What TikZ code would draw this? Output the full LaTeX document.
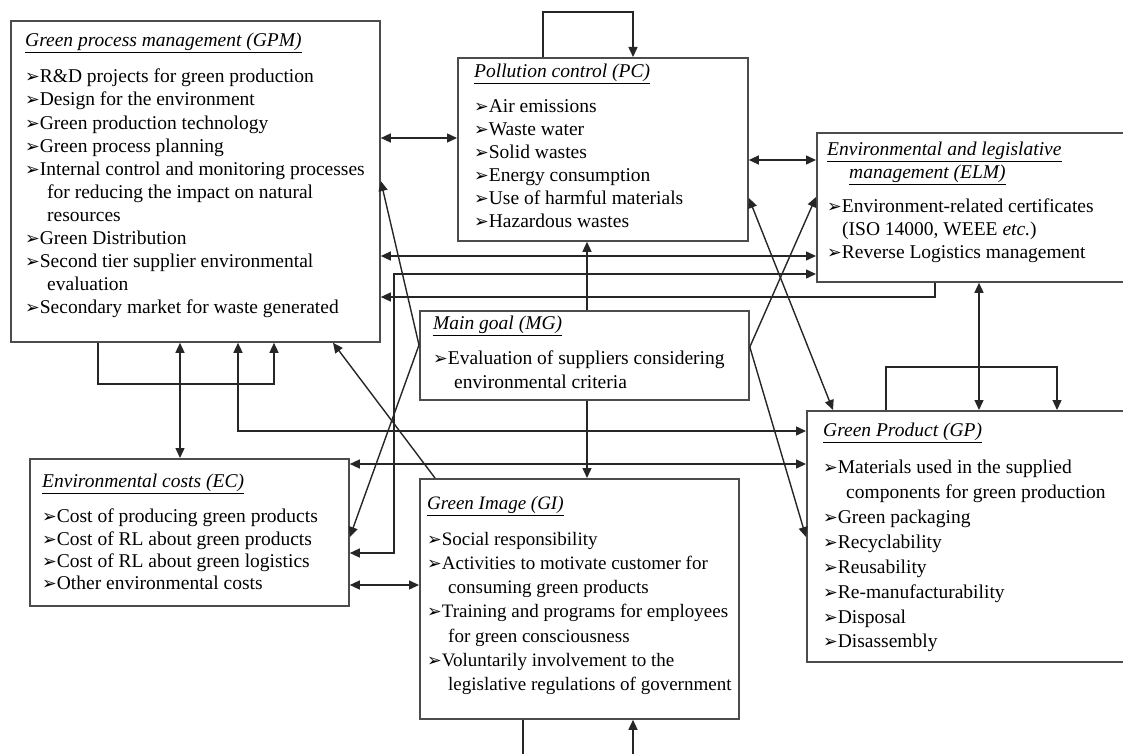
\documentclass[tikz,border=0pt]{standalone}
\usepackage{fontspec}
\setmainfont{Liberation Serif}
\newfontfamily\symfont{DejaVu Sans}
\usetikzlibrary{positioning,arrows.meta}
\newcommand{\bul}{{\symfont\fontsize{17.5}{17.5}\selectfont ➢}}
\newcommand{\ttl}[1]{\underline{\textit{#1}}}
\tikzset{%
  factor/.style     = {shape=rectangle, draw=black!70, line width=1.8pt,%
                       inner sep=0pt, anchor=north west},%
  factortext/.style = {inner sep=0pt, align=left,%
                       font=\fontsize{19.5}{#1}\selectfont},%
  factortext/.default = 23,%
  link/.style       = {draw=black!85, line width=1.4pt,%
                       >={Triangle[length=10pt,width=9pt]}}%
}

\begin{document}
\begin{tikzpicture}[x=1pt,y=-1pt]
	\useasboundingbox (0,0) rectangle (1123,754);
	% boxes
	\node [factor, minimum width=369pt, minimum height=321pt] (gpm) at (10,20) {};
	\node [factor, minimum width=290pt, minimum height=183pt] (pc) at (457,57) {};
	\node [factor, minimum width=330pt, minimum height=149pt] (elm) at (816,132) {};
	\node [factor, minimum width=329pt, minimum height=89pt] (mg) at (419,310) {};
	\node [factor, minimum width=319pt, minimum height=147pt] (ec) at (29,458) {};
	\node [factor, minimum width=319pt, minimum height=240pt] (gi) at (419,478) {};
	\node [factor, minimum width=330pt, minimum height=251pt] (gp) at (806,410) {};
	% texts
	\node [factortext=23.1, below right=13pt and 15pt of gpm.north west] (gpm-t) {%
		\ttl{Green process management (GPM)}\\[13pt]
		\bul R\&D projects for green production\\
		\bul Design for the environment\\
		\bul Green production technology\\
		\bul Green process planning\\
		\bul Internal control and monitoring processes\\
		\hspace*{22pt}for reducing the impact on natural\\
		\hspace*{22pt}resources\\
		\bul Green Distribution\\
		\bul Second tier supplier environmental\\
		\hspace*{22pt}evaluation\\
		\bul Secondary market for waste generated};
	\node [factortext=23, below right=7pt and 17pt of pc.north west] (pc-t) {%
		\ttl{Pollution control (PC)}\\[12pt]
		\bul Air emissions\\
		\bul Waste water\\
		\bul Solid wastes\\
		\bul Energy consumption\\
		\bul Use of harmful materials\\
		\bul Hazardous wastes};
	\node [factortext=23, below right=10pt and 11pt of elm.north west] (elm-t) {%
		\ttl{Environmental and legislative}\\
		\hspace*{22pt}\ttl{management (ELM)}\\[11pt]
		\bul Environment-related certificates\\
		\hspace*{15pt}(ISO 14000, WEEE \textit{etc.})\\
		\bul Reverse Logistics management};
	\node [factortext=24, below right=6pt and 14pt of mg.north west] (mg-t) {%
		\ttl{Main goal (MG)}\\[11pt]
		\bul Evaluation of suppliers considering\\
		\hspace*{21pt}environmental criteria};
	\node [factortext=22.3, below right=16pt and 13pt of ec.north west] (ec-t) {%
		\ttl{Environmental costs (EC)}\\[12.7pt]
		\bul Cost of producing green products\\
		\bul Cost of RL about green products\\
		\bul Cost of RL about green logistics\\
		\bul Other environmental costs};
	\node [factortext=24.2, font=\fontsize{19}{24.2}\selectfont,
		below right=18pt and 8pt of gi.north west] (gi-t) {%
		\ttl{Green Image (GI)}\\[11.8pt]
		\bul Social responsibility\\
		\bul Activities to motivate customer for\\
		\hspace*{21pt}consuming green products\\
		\bul Training and programs for employees\\
		\hspace*{21pt}for green consciousness\\
		\bul Voluntarily involvement to the\\
		\hspace*{21pt}legislative regulations of government};
	\node [factortext=24.9, below right=13pt and 17pt of gp.north west] (gp-t) {%
		\ttl{Green Product (GP)}\\[12pt]
		\bul Materials used in the supplied\\
		\hspace*{23pt}components for green production\\
		\bul Green packaging\\
		\bul Recyclability\\
		\bul Reusability\\
		\bul Re-manufacturability\\
		\bul Disposal\\
		\bul Disassembly};
	% self loops
	\draw [link,->] (pc.north -| 543,0) -- ++(0,-45) -| (pc.north -| 633,0);
	\draw [link,->] (gpm.south -| 98,0) -- ++(0,41) -| (gpm.south -| 274,0);
	\draw [link,->] (gp.north -| 886,0) -- ++(0,-43) -| (gp.north -| 1057,0);
	\draw [link,->] (gi.south -| 523,0) -- ++(0,45) -| (gi.south -| 633,0);
	% straight links
	\draw [link,<->] (gpm.east |- 0,138) -- (pc.west |- 0,138);
	\draw [link,<->] (pc.east |- 0,160) -- (elm.west |- 0,160);
	\draw [link,<->] (gpm.east |- 0,256) -- (elm.west |- 0,256);
	\draw [link,<->] (ec.east |- 0,553) -- (394,553) |- (elm.west |- 0,274);
	\draw [link,->] (elm.south -| 935,0) |- (gpm.east |- 0,297);
	\draw [link,<->] (gpm.south -| 238,0) |- (gp.west |- 0,431);
	\draw [link,<->] (ec.east |- 0,464) -- (gp.west |- 0,464);
	\draw [link,<->] (gpm.south -| 180,0) -- (ec.north -| 180,0);
	\draw [link,<->] (ec.east |- 0,585) -- (gi.west |- 0,585);
	\draw [link,->] (mg.north -| 587,0) -- (pc.south -| 587,0);
	\draw [link,->] (mg.south -| 587,0) -- (gi.north -| 587,0);
	\draw [link,<->] (elm.south -| 979,0) -- (gp.north -| 979,0);
	% diagonal links
	\draw [link,->] (mg.west |- 0,345) -- (gpm.east |- 0,181);
	\draw [link,->] (mg.west |- 0,345) -- (ec.east |- 0,537);
	\draw [link,->] (mg.east |- 0,347) -- (elm.west |- 0,197);
	\draw [link,->] (mg.east |- 0,347) -- (gp.west |- 0,537);
	\draw [link,<->] (pc.east |- 0,198) -- (gp.north -| 833,0);
	\draw [link,->] (gi.north -| 435,0) -- (gpm.south -| 333,0);
\end{tikzpicture}
\end{document}
